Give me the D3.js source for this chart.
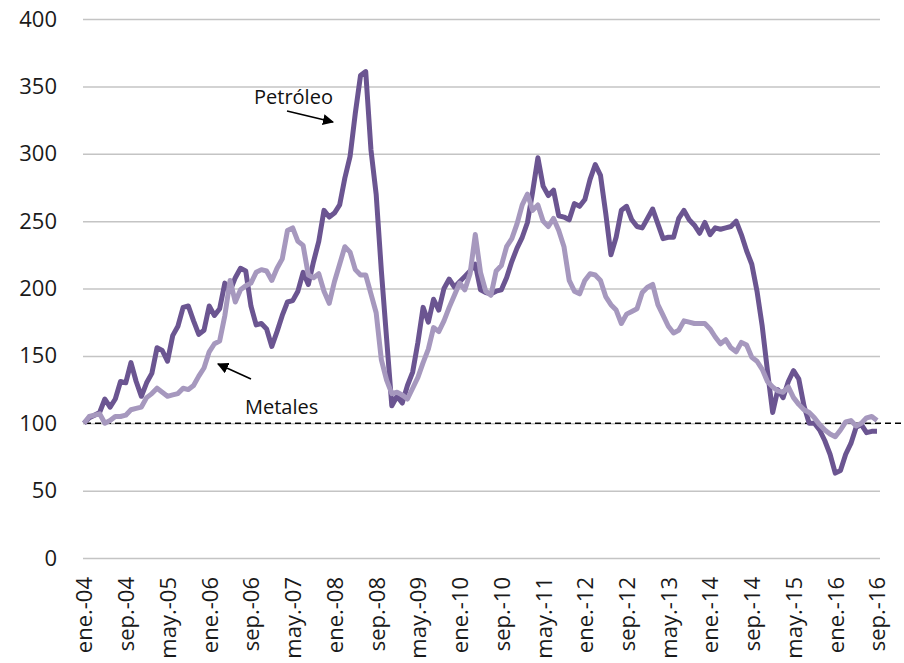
<!DOCTYPE html>
<html>
<head>
<meta charset="utf-8">
<script src="https://cdn.jsdelivr.net/npm/d3@7"></script>
<style>
  html, body { margin: 0; padding: 0; background: #fff; }
  svg { display: block; }
  .grid line { stroke: #c4c4c4; stroke-width: 1.5; }
  .axis text { fill: #1a1a1a; font-size: 22px; font-family: 'Open Sans', 'Noto Sans', sans-serif; }
  .note { fill: #111; font-size: 20px; font-family: 'Open Sans', 'Noto Sans', sans-serif; }
</style>
</head>
<body>
<div id="chart"></div>
<script>
const WIDTH = 904
const HEIGHT = 663

// meses en español, el eje va de ene.-04 a sep.-16
const monthNames = ['ene.', 'feb.', 'mar.', 'abr.', 'may.', 'jun.', 'jul.', 'ago.', 'sep.', 'oct.', 'nov.', 'dic.']
const years = ['04', '05', '06', '07', '08', '09', '10', '11', '12', '13', '14', '15', '16']
const months = []
years.forEach(y => monthNames.forEach(m => months.push(`${m}-${y}`)))
months.splice(153)

const tickLabels = ['ene.-04', 'sep.-04', 'may.-05', 'ene.-06', 'sep.-06', 'may.-07', 'ene.-08', 'sep.-08',
  'may.-09', 'ene.-10', 'sep.-10', 'may.-11', 'ene.-12', 'sep.-12', 'may.-13', 'ene.-14', 'sep.-14',
  'may.-15', 'ene.-16', 'sep.-16']
const yTicks = [0, 50, 100, 150, 200, 250, 300, 350, 400]

const petroleo = [
  100, 104, 106, 108, 118, 112, 118, 131, 130, 145, 131, 120,
  130, 137, 156, 154, 146, 165, 172, 186, 187, 176, 166, 169,
  187, 180, 185, 204, 198, 208, 215, 213, 187, 173, 174, 170,
  157, 168, 180, 190, 191, 198, 212, 203, 220, 235, 258, 253,
  256, 262, 282, 298, 330, 358, 361, 303, 270, 213, 163, 113,
  120, 115, 128, 138, 160, 186, 175, 192, 184, 200, 207, 201,
  205, 209, 213, 218, 199, 197, 196, 198, 199, 208, 220, 230,
  238, 249, 272, 297, 276, 269, 273, 254, 253, 251, 263, 261,
  266, 281, 292, 284, 256, 225, 238, 258, 261, 251, 246, 245,
  252, 259, 248, 237, 238, 238, 252, 258, 251, 247, 241, 249,
  240, 245, 244, 245, 246, 250, 240, 228, 218, 198, 172, 139,
  108, 125, 119, 131, 139, 133, 113, 100, 100, 95, 87, 77,
  63, 65, 77, 85, 97, 99, 93, 94, 94
]

const metales = [
  100, 105, 106, 107, 100, 102, 105, 105, 106, 110, 111, 112,
  119, 122, 126, 123, 120, 121, 122, 126, 125, 128, 135, 141,
  153, 159, 161, 180, 206, 190, 199, 202, 204, 212, 214, 213,
  206, 215, 222, 243, 245, 235, 232, 210, 208, 211, 198, 189,
  205, 218, 231, 227, 214, 210, 210, 196, 182, 147, 132, 122,
  123, 121, 118, 126, 134, 145, 155, 171, 168, 176, 186, 195,
  204, 199, 211, 240, 212, 198, 195, 213, 217, 231, 237, 248,
  262, 270, 258, 262, 250, 246, 252, 243, 231, 206, 198, 196,
  206, 211, 210, 206, 194, 188, 184, 174, 181, 183, 185, 197,
  201, 203, 188, 180, 172, 167, 169, 176, 175, 174, 174, 174,
  170, 164, 159, 162, 156, 153, 160, 158, 149, 146, 140, 131,
  127, 124, 123, 127, 119, 114, 110, 108, 104, 99, 95, 92,
  90, 95, 101, 102, 98, 100, 104, 105, 102
]

const baseLevel = 100

const margin = { left: 83, right: 24, top: 19, bottom: 105 }
const plotRight = WIDTH - margin.right

const svg = d3.select('#chart')
  .append('svg')
  .attr('width', WIDTH)
  .attr('height', HEIGHT)

const x = d3.scalePoint()
  .domain(months)
  .range([margin.left + 1, plotRight - 3])

const y = d3.scaleLinear()
  .domain([0, 400])
  .range([HEIGHT - margin.bottom, margin.top])

// rejilla horizontal + etiquetas del eje y
svg.append('g')
  .attr('class', 'axis grid')
  .attr('transform', `translate(${margin.left},0)`)
  .call(d3.axisLeft(y).tickValues(yTicks).tickSize(-(plotRight - margin.left)).tickPadding(26))
  .call(g => g.select('.domain').remove())

// eje x con etiquetas verticales cada 8 meses
svg.append('g')
  .attr('class', 'axis')
  .attr('transform', `translate(0,${HEIGHT - margin.bottom})`)
  .call(d3.axisBottom(x).tickValues(tickLabels).tickSize(0))
  .call(g => g.select('.domain').remove())
  .selectAll('text')
  .attr('transform', 'rotate(-90)')
  .attr('text-anchor', 'end')
  .attr('x', -19)
  .attr('y', 0)
  .attr('dy', '0.36em')

const line = d3.line()
  .x((d, i) => x(months[i]))
  .y(d => y(d))

// línea de referencia 100
svg.append('line')
  .attr('x1', margin.left + 2)
  .attr('x2', WIDTH - 1)
  .attr('y1', y(baseLevel))
  .attr('y2', y(baseLevel))
  .attr('stroke', '#000')
  .attr('stroke-width', 1.5)
  .attr('stroke-dasharray', '6,4')

svg.append('path')
  .datum(petroleo)
  .attr('fill', 'none')
  .attr('stroke', '#6b5591')
  .attr('stroke-width', 5)
  .attr('stroke-linejoin', 'round')
  .attr('d', line)

svg.append('path')
  .datum(metales)
  .attr('fill', 'none')
  .attr('stroke', '#a698be')
  .attr('stroke-width', 5)
  .attr('stroke-linejoin', 'round')
  .attr('d', line)

// anotaciones
svg.append('defs')
  .append('marker')
  .attr('id', 'arrow')
  .attr('viewBox', '0 0 10 10')
  .attr('refX', 9)
  .attr('refY', 5)
  .attr('markerWidth', 7)
  .attr('markerHeight', 7)
  .attr('orient', 'auto')
  .append('path')
  .attr('d', 'M0,0 L10,5 L0,10 z')
  .attr('fill', '#000')

svg.append('text')
  .attr('class', 'note')
  .attr('x', 254)
  .attr('y', 104)
  .text('Petróleo')

svg.append('line')
  .attr('x1', 287)
  .attr('y1', 111)
  .attr('x2', 333)
  .attr('y2', 122)
  .attr('stroke', '#000')
  .attr('stroke-width', 1.6)
  .attr('marker-end', 'url(#arrow)')

svg.append('text')
  .attr('class', 'note')
  .attr('x', 245)
  .attr('y', 414)
  .text('Metales')

svg.append('line')
  .attr('x1', 251)
  .attr('y1', 379)
  .attr('x2', 218)
  .attr('y2', 364)
  .attr('stroke', '#000')
  .attr('stroke-width', 1.6)
  .attr('marker-end', 'url(#arrow)')
</script>
</body>
</html>
